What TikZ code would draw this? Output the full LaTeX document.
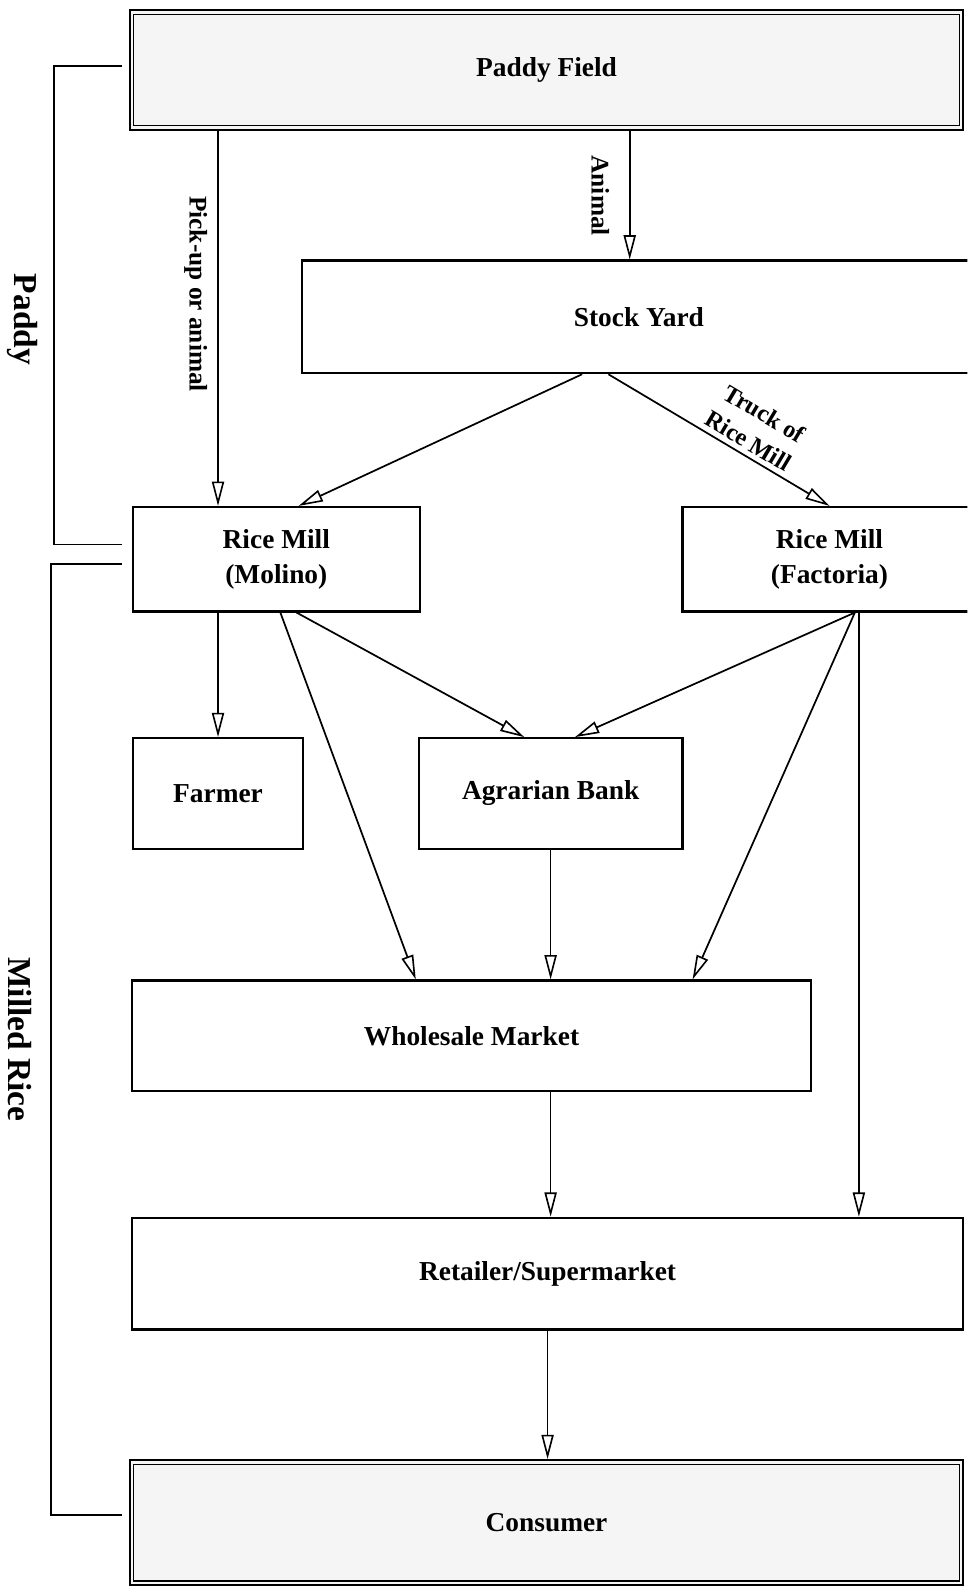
\documentclass[tikz,border=0pt]{standalone}
\usepackage{fontspec}
\setmainfont{Liberation Serif}
\usetikzlibrary{arrows.meta,calc}
\begin{document}
\begin{tikzpicture}[x=1pt,y=-1pt,
  box/.style={draw, line width=2.2pt, inner sep=0pt, font=\fontsize{27}{35}\selectfont\bfseries, align=center},
  fillbox/.style={box, fill=black!4},
  innerline/.style={line width=1pt},
  arr/.style={line width=1.7pt, -{Triangle[open, length=24pt, width=12pt, line width=1.6pt]}},
  lbl/.style={font=\fontsize{25}{28}\selectfont\bfseries, inner sep=0pt},
  tlbl/.style={font=\fontsize{24}{31}\selectfont\bfseries, inner sep=0pt, align=center},
  side/.style={font=\fontsize{33}{40}\selectfont\bfseries, rotate=-90, inner sep=0pt},
  brk/.style={line width=1.7pt}
]
\useasboundingbox (0,0) rectangle (954,1568);
\clip (0,0) rectangle (954,1568);

% boxes
\node[fillbox, minimum width=822pt, minimum height=118pt] (paddy) at (539,69) {Paddy Field};
\draw[innerline] ([xshift=5pt,yshift=-5pt]paddy.north west) rectangle ([xshift=-5pt,yshift=5pt]paddy.south east);
\node[box, minimum width=664pt, minimum height=111pt] (stock) at (630,312.5) {Stock Yard};
\node[box, minimum width=283pt, minimum height=103pt] (molino) at (272.5,551.5) {Rice Mill\\(Molino)};
\node[box, minimum width=290pt, minimum height=103pt] (factoria) at (818,551.5) {Rice Mill\\(Factoria)};
\node[box, minimum width=168pt, minimum height=109pt] (farmer) at (215,782.5) {Farmer};
\node[box, minimum width=260pt, minimum height=109pt] (bank) at (543,782.5) {Agrarian Bank};
\node[box, minimum width=670pt, minimum height=109pt] (wholesale) at (465,1021.5) {Wholesale Market};
\node[box, minimum width=820pt, minimum height=110pt] (retailer) at (540,1256) {Retailer/Supermarket};
\node[fillbox, minimum width=822pt, minimum height=123pt] (consumer) at (539,1501.5) {Consumer};
\draw[innerline] ([xshift=5pt,yshift=-5pt]consumer.north west) rectangle ([xshift=-5pt,yshift=5pt]consumer.south east);

% connectors
\draw[arr] (paddy.south -| farmer.north) -- (molino.north -| farmer.north);
\node[lbl, rotate=-90] (lpick) at (193,290) {Pick-up or animal};
\path ([xshift=-9pt]stock.north) coordinate (aT);
\draw[arr] (paddy.south -| aT) -- (aT);
\node[lbl, rotate=-90] (lanimal) at (592,193) {Animal};
\draw[arr] ([xshift=-56pt]stock.south) -- ([xshift=22pt]molino.north);
\draw[arr] ([xshift=-30pt]stock.south) -- node[tlbl, sloped, above=5pt, pos=0.6] (ltruck) {Truck of\\Rice Mill} (factoria.north);

\draw[arr] (molino.south -| farmer.north) -- (farmer.north);
\draw[arr] ([xshift=4pt]molino.south) -- ([xshift=-55pt]wholesale.north);
\draw[arr] ([xshift=20pt]molino.south) -- ([xshift=-26pt]bank.north);
\draw[arr] ([xshift=25pt]factoria.south) -- ([xshift=24pt]bank.north);
\draw[arr] ([xshift=25pt]factoria.south) -- ([xshift=218pt]wholesale.north);
\path ([xshift=29pt]factoria.south) coordinate (fv);
\draw[arr] (fv) -- (fv |- retailer.north);
\draw[arr] (bank.south) -- (bank.south |- wholesale.north);
\draw[arr] (wholesale.south -| bank.south) -- (retailer.north -| bank.south);
\draw[arr] (retailer.south) -- (retailer.south |- consumer.north);

% side brackets
\coordinate (p1) at (120,65);
\coordinate (p2) at (120,537);
\draw[brk] (p1) -- (53,65) -- (53,537) -- (p2);
\node[side] (lpaddy) at (22,315) {Paddy};
\coordinate (m1) at (120,556);
\coordinate (m2) at (120,1494);
\draw[brk] (m1) -- (50,556) -- (50,1494) -- (m2);
\node[side] (lmilled) at (20,1025) {Milled Rice};
\end{tikzpicture}
\end{document}
